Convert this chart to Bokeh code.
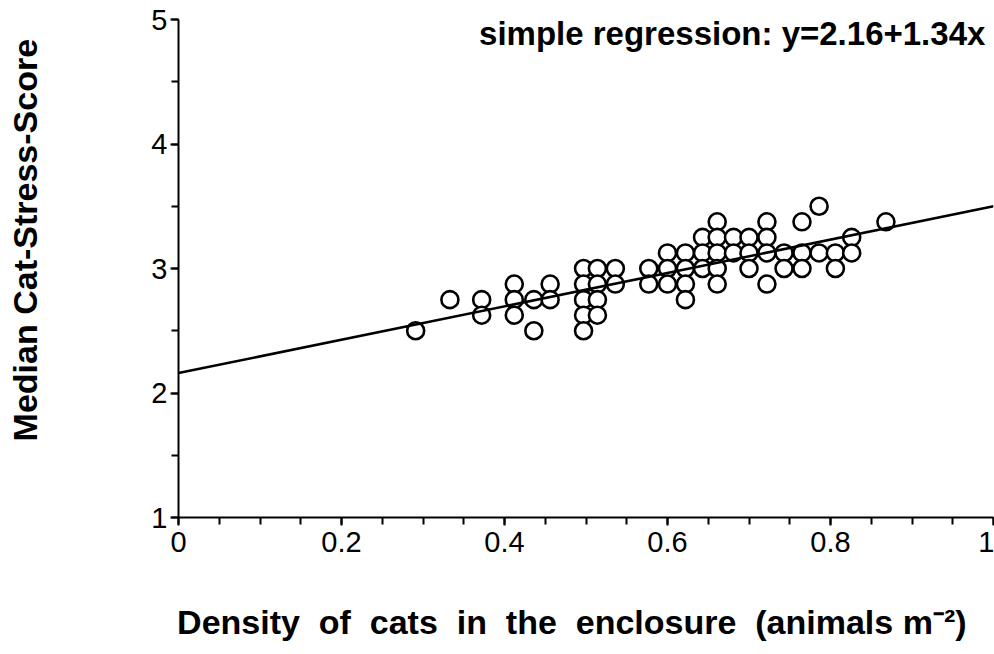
from bokeh.plotting import figure
from bokeh.models import Range1d, SingleIntervalTicker, CustomJSTickFormatter, Label
from bokeh.embed import file_html
from bokeh.resources import INLINE

# ---- data ----
density = [0.291,
           0.333,
           0.372, 0.372,
           0.412, 0.412, 0.412,
           0.436, 0.436,
           0.456, 0.456,
           0.497, 0.497, 0.497, 0.497, 0.497,
           0.514, 0.514, 0.514, 0.514,
           0.536, 0.536,
           0.577, 0.577,
           0.600, 0.600, 0.600,
           0.622, 0.622, 0.622, 0.622,
           0.643, 0.643, 0.643,
           0.661, 0.661, 0.661, 0.661, 0.661,
           0.681, 0.681,
           0.700, 0.700, 0.700,
           0.722, 0.722, 0.722, 0.722,
           0.743, 0.743,
           0.765, 0.765, 0.765,
           0.786, 0.786,
           0.806, 0.806,
           0.826, 0.826,
           0.868]
stress = [2.5,
          2.75,
          2.75, 2.625,
          2.875, 2.75, 2.625,
          2.75, 2.5,
          2.875, 2.75,
          3.0, 2.875, 2.75, 2.625, 2.5,
          3.0, 2.875, 2.75, 2.625,
          3.0, 2.875,
          3.0, 2.875,
          3.125, 3.0, 2.875,
          3.125, 3.0, 2.875, 2.75,
          3.25, 3.125, 3.0,
          3.375, 3.25, 3.125, 3.0, 2.875,
          3.25, 3.125,
          3.25, 3.125, 3.0,
          3.375, 3.25, 3.125, 2.875,
          3.125, 3.0,
          3.375, 3.125, 3.0,
          3.5, 3.125,
          3.125, 3.0,
          3.25, 3.125,
          3.375]
reg_intercept = 2.16
reg_slope = 1.34
line_x = [0.0, 1.0]
line_y = [reg_intercept + reg_slope * v for v in line_x]
reg_text = "simple regression: y=2.16+1.34x"
NB = "\u00a0"
# leading no-break spaces nudge the centred title upwards, like the reference
y_title = NB * 6 + "Median Cat-Stress-Score"
x_title = (NB * 2).join(["Density", "of", "cats", "in", "the", "enclosure",
                         "(animals m\u207b\u00b2)"]) + NB * 3

FONT = "Liberation Sans"

p = figure(width=994, height=654,
           x_range=Range1d(0, 1), y_range=Range1d(1, 5),
           output_backend="svg", toolbar_location=None,
           min_border_left=178, min_border_right=1,
           min_border_top=19, min_border_bottom=137)
p.grid.visible = False
p.outline_line_color = None
p.background_fill_color = "white"
p.border_fill_color = "white"

p.xaxis.ticker = SingleIntervalTicker(interval=0.2, num_minor_ticks=4)
p.yaxis.ticker = SingleIntervalTicker(interval=1, num_minor_ticks=2)
p.xaxis.formatter = CustomJSTickFormatter(code="return String(Math.round(tick*10)/10);")

for ax in (p.xaxis, p.yaxis):
    ax.axis_line_width = 2
    ax.axis_line_color = "black"
    ax.major_tick_line_width = 2
    ax.minor_tick_line_width = 2
    ax.major_tick_line_color = "black"
    ax.minor_tick_line_color = "black"
    ax.major_tick_out = 8
    ax.major_tick_in = 0
    ax.minor_tick_out = 7
    ax.minor_tick_in = 0
    ax.major_label_text_font = FONT
    ax.major_label_text_font_size = "29px"
    ax.major_label_text_color = "black"
    ax.axis_label_text_font = FONT
    ax.axis_label_text_font_style = "bold"
    ax.axis_label_text_font_size = "34px"
    ax.axis_label_text_color = "black"
p.xaxis.major_label_standoff = 6
p.yaxis.major_label_standoff = 3
p.yaxis.axis_label = y_title
p.yaxis.axis_label_standoff = 104
p.xaxis.axis_label = x_title
p.xaxis.axis_label_standoff = 48

p.scatter(density, stress, marker="circle", size=17,
          fill_color="white", line_color="black", line_width=2.6)
p.line(line_x, line_y, line_color="black", line_width=2.5)

p.add_layout(Label(x=0.99, y=5, y_offset=5, text=reg_text, text_align="right",
                   text_baseline="top", text_font=FONT, text_font_style="bold",
                   text_font_size="33px", text_color="black"))

open("out.html", "w").write(file_html(p, INLINE))
